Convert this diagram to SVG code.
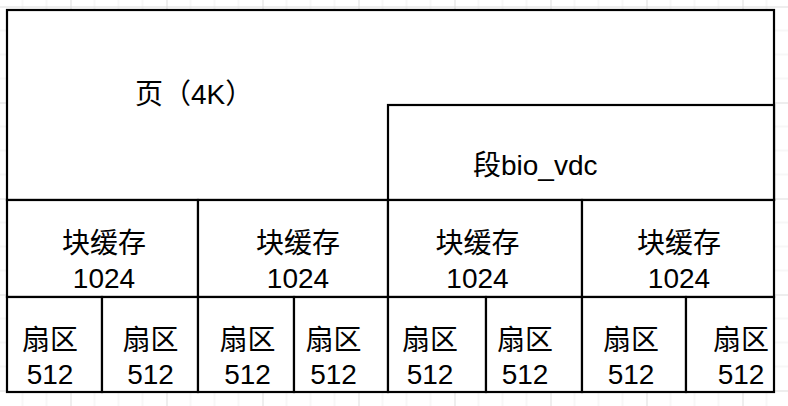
<svg xmlns="http://www.w3.org/2000/svg" width="788" height="406" viewBox="0 0 788 406">
<style>
.box{fill:#ffffff;stroke:#000000;stroke-width:2.2}
.t{font-family:"Liberation Sans","Noto Sans CJK SC",sans-serif;font-size:28px;fill:#000000}
.m{text-anchor:middle}
.minor{stroke:#f0f0f0;stroke-width:1}
.major{stroke:#dcdcdc;stroke-width:1}
</style>
<defs>
<pattern id="grid" patternUnits="userSpaceOnUse" x="70.5" y="6.5" width="96" height="96">
<rect width="96" height="96" fill="#ffffff"/>
<path class="minor" d="M24,0V96M48,0V96M72,0V96M0,24H96M0,48H96M0,72H96"/>
<path class="major" d="M0.5,0V96M0,0.5H96"/>
</pattern>
</defs>
<rect x="0" y="0" width="788" height="406" fill="url(#grid)"/>
<g id="page">
<rect class="box" x="7" y="10" width="767" height="190"/>
<text class="t" x="135" y="104">页（4K）</text>
</g>
<g id="segment">
<rect class="box" x="388" y="105" width="386" height="95"/>
<text class="t" x="473" y="175">段bio_vdc</text>
</g>
<g id="block1">
<rect class="box" x="7" y="200" width="191" height="97"/>
<text class="t m" x="104" y="253">块缓存</text>
<text class="t m" x="104" y="288">1024</text>
</g>
<g id="block2">
<rect class="box" x="198" y="200" width="190" height="97"/>
<text class="t m" x="298" y="253">块缓存</text>
<text class="t m" x="298" y="288">1024</text>
</g>
<g id="block3">
<rect class="box" x="388" y="200" width="194" height="97"/>
<text class="t m" x="477.5" y="253">块缓存</text>
<text class="t m" x="477.5" y="288">1024</text>
</g>
<g id="block4">
<rect class="box" x="582" y="200" width="192" height="97"/>
<text class="t m" x="679" y="253">块缓存</text>
<text class="t m" x="679" y="288">1024</text>
</g>
<g id="sector1">
<rect class="box" x="7" y="297" width="95" height="95"/>
<text class="t m" x="50" y="350">扇区</text>
<text class="t m" x="50" y="384">512</text>
</g>
<g id="sector2">
<rect class="box" x="102" y="297" width="96" height="95"/>
<text class="t m" x="150.5" y="350">扇区</text>
<text class="t m" x="150.5" y="384">512</text>
</g>
<g id="sector3">
<rect class="box" x="198" y="297" width="96" height="95"/>
<text class="t m" x="247.5" y="350">扇区</text>
<text class="t m" x="247.5" y="384">512</text>
</g>
<g id="sector4">
<rect class="box" x="294" y="297" width="94" height="95"/>
<text class="t m" x="333.5" y="350">扇区</text>
<text class="t m" x="333.5" y="384">512</text>
</g>
<g id="sector5">
<rect class="box" x="388" y="297" width="98" height="95"/>
<text class="t m" x="430" y="350">扇区</text>
<text class="t m" x="430" y="384">512</text>
</g>
<g id="sector6">
<rect class="box" x="486" y="297" width="96" height="95"/>
<text class="t m" x="525" y="350">扇区</text>
<text class="t m" x="525" y="384">512</text>
</g>
<g id="sector7">
<rect class="box" x="582" y="297" width="104" height="95"/>
<text class="t m" x="631" y="350">扇区</text>
<text class="t m" x="631" y="384">512</text>
</g>
<g id="sector8">
<rect class="box" x="686" y="297" width="88" height="95"/>
<text class="t m" x="741" y="350">扇区</text>
<text class="t m" x="741" y="384">512</text>
</g>
</svg>
